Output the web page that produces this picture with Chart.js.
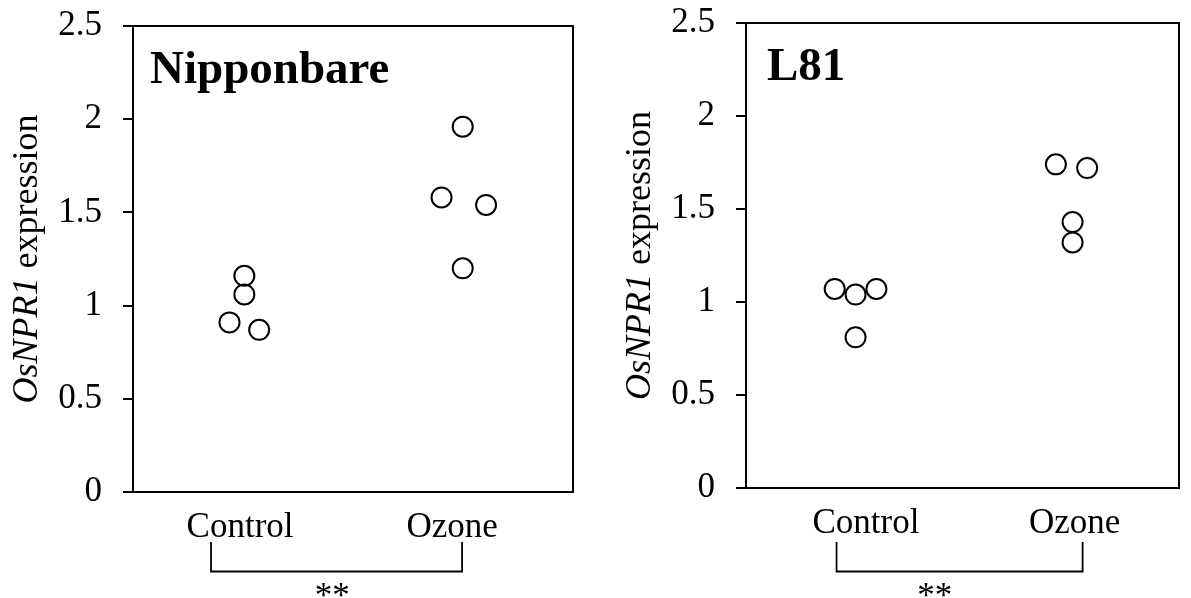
<!DOCTYPE html>
<html>
<head>
<meta charset="utf-8">
<script src="https://cdn.jsdelivr.net/npm/chart.js@4.4.1/dist/chart.umd.min.js"></script>
<style>
  html, body { margin: 0; padding: 0; background: #fff; }
  #wrap { position: relative; width: 1191px; height: 598px; }
  .panel { position: absolute; top: 0; height: 598px; }
</style>
</head>
<body>
<div id="wrap">
  <div class="panel" style="left:0;width:600px"><canvas id="left" width="600" height="598"></canvas></div>
  <div class="panel" style="left:600px;width:591px"><canvas id="right" width="591" height="598"></canvas></div>
</div>
<script>
const categories = ['Control', 'Ozone'];
const yTicks = [0, 0.5, 1, 1.5, 2, 2.5];

// Nipponbare (x = category position with jitter, y = expression)
const nipControlX = [1.02, 1.02, 0.95, 1.09];
const nipControlY = [1.16, 1.06, 0.91, 0.87];
const nipOzoneX = [2.05, 1.95, 2.16, 2.05];
const nipOzoneY = [1.96, 1.58, 1.54, 1.20];

// L81
const l81ControlX = [0.85, 0.95, 1.05, 0.95];
const l81ControlY = [1.07, 1.04, 1.07, 0.81];
const l81OzoneX = [1.91, 2.06, 1.99, 1.99];
const l81OzoneY = [1.74, 1.72, 1.43, 1.32];

const serif = '"Liberation Serif", "Times New Roman", serif';

function pts(xs, ys) {
    return xs.map((x, i) => ({ x: x, y: ys[i] }));
}

function decor(cfg) {
    return {
        id: 'decor',
        afterDraw(chart) {
            const ctx = chart.ctx;
            const a = chart.chartArea;
            const x = chart.scales.x;
            ctx.save();
            ctx.strokeStyle = '#000';
            ctx.fillStyle = '#000';
            ctx.lineWidth = 2;
            ctx.strokeRect(a.left, a.top, a.right - a.left, a.bottom - a.top);

            // panel name
            ctx.font = 'bold 47px ' + serif;
            ctx.textAlign = 'left';
            ctx.textBaseline = 'alphabetic';
            ctx.fillText(cfg.name, a.left + cfg.nameDx, a.top + 57);

            // significance bracket
            const b0 = x.getPixelForValue(cfg.bracket[0]);
            const b1 = x.getPixelForValue(cfg.bracket[1]);
            ctx.lineWidth = 1.8;
            ctx.beginPath();
            ctx.moveTo(b0, 542);
            ctx.lineTo(b0, 571.5);
            ctx.lineTo(b1, 571.5);
            ctx.lineTo(b1, 542);
            ctx.stroke();
            ctx.font = '35px ' + serif;
            ctx.textAlign = 'center';
            ctx.fillText('**', x.getPixelForValue(cfg.starX), 607);

            // y axis title, italic gene name + plain word
            ctx.translate(a.left - 105, (a.top + a.bottom) / 2);
            ctx.rotate(-Math.PI / 2);
            const f1 = 'italic 36px ' + serif;
            const f2 = '36px ' + serif;
            ctx.font = f1;
            const w1 = ctx.measureText('OsNPR1').width;
            ctx.font = f2;
            const w2 = ctx.measureText(' expression').width;
            const sx = -(w1 + w2) / 2;
            ctx.textAlign = 'left';
            ctx.textBaseline = 'middle';
            ctx.font = f1;
            ctx.fillText('OsNPR1', sx, 0);
            ctx.font = f2;
            ctx.fillText(' expression', sx + w1, 0);
            ctx.restore();
        }
    };
}

function makePanel(id, cfg) {
    const dot = {
        pointRadius: 10,
        pointHoverRadius: 10,
        pointBorderWidth: 2,
        borderColor: '#000',
        backgroundColor: 'rgba(255,255,255,0)',
        showLine: false
    };
    const font = { family: serif, size: 35 };
    new Chart(document.getElementById(id), {
        type: 'scatter',
        data: {
            datasets: [
                Object.assign({ label: 'Control', data: pts(cfg.cx, cfg.cy) }, dot),
                Object.assign({ label: 'Ozone', data: pts(cfg.ox, cfg.oy) }, dot)
            ]
        },
        options: {
            responsive: false,
            animation: false,
            layout: { padding: { left: 0, top: cfg.top, right: cfg.right, bottom: 0 } },
            plugins: { legend: { display: false }, tooltip: { enabled: false } },
            scales: {
                x: {
                    type: 'linear',
                    min: cfg.xMin,
                    max: cfg.xMax,
                    afterBuildTicks: s => { s.ticks = categories.map((c, i) => ({ value: i + 1 })); },
                    ticks: { callback: v => categories[v - 1], font: font, color: '#000', padding: 7, autoSkip: false, maxRotation: 0 },
                    grid: { display: false },
                    border: { display: false },
                    afterFit: s => { s.height = 598 - cfg.bottom; s.paddingLeft = 0; s.paddingRight = 0; }
                },
                y: {
                    min: 0,
                    max: 2.5,
                    afterBuildTicks: s => { s.ticks = yTicks.map(v => ({ value: v })); },
                    ticks: { callback: v => String(v), font: font, color: '#000', padding: 21 },
                    grid: { drawOnChartArea: false, tickLength: 10, color: '#000', lineWidth: 2 },
                    border: { display: false },
                    afterFit: s => { s.width = cfg.left; s.paddingTop = 0; s.paddingBottom = 0; }
                }
            }
        },
        plugins: [decor(cfg)]
    });
}

makePanel('left', {
    name: 'Nipponbare', nameDx: 17,
    cx: nipControlX, cy: nipControlY, ox: nipOzoneX, oy: nipOzoneY,
    xMin: 0.495, xMax: 2.57,
    left: 133, right: 27, top: 26, bottom: 492,
    bracket: [0.863, 2.047], starX: 1.435
});

makePanel('right', {
    name: 'L81', nameDx: 21,
    cx: l81ControlX, cy: l81ControlY, ox: l81OzoneX, oy: l81OzoneY,
    xMin: 0.425, xMax: 2.5,
    left: 146, right: 5, top: 23, bottom: 488,
    bracket: [0.859, 2.038], starX: 1.33
});
</script>
</body>
</html>
